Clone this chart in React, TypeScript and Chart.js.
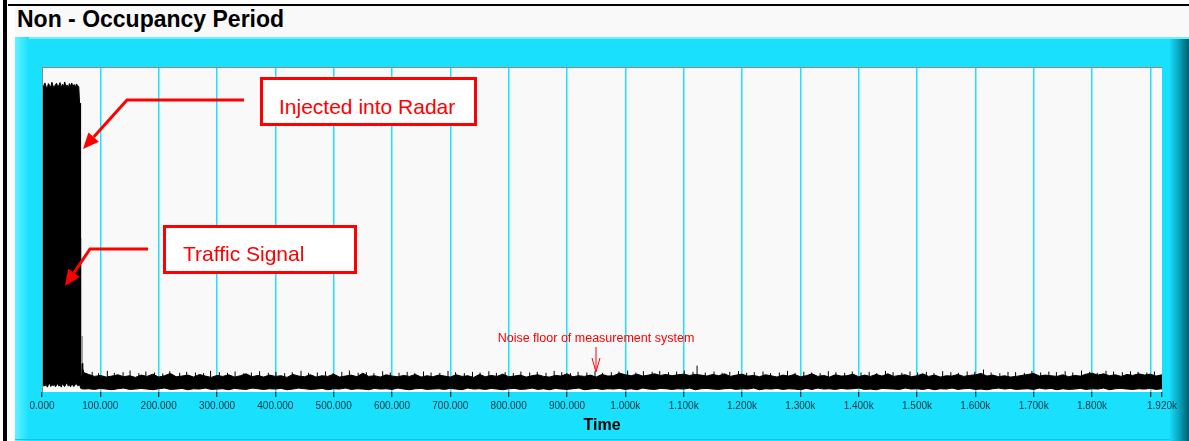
import React, { useEffect, useRef } from 'react';
import { Chart, registerables } from 'chart.js';

Chart.register(...registerables);

// ---- axis ticks (time, in thousands) ----
const tickValuesK = [0, 100, 200, 300, 400, 500, 600, 700, 800, 900, 1000, 1100, 1200, 1300, 1400, 1500, 1600, 1700, 1800, 1900, 1920];
const tickLabels = ['0.000', '100.000', '200.000', '300.000', '400.000', '500.000', '600.000', '700.000', '800.000', '900.000',
  '1.000k', '1.100k', '1.200k', '1.300k', '1.400k', '1.500k', '1.600k', '1.700k', '1.800k', '', '1.920k'];

// ---- burst (injected signal) envelope: time in k, amplitude (0-100) ----
const burstTimesK = [0, 1, 3, 5, 7, 9, 11, 13, 15, 17, 19, 21, 23, 25, 27, 29, 31, 33, 35, 37, 39, 41, 43, 45, 47, 49, 51, 53, 55, 57, 59, 61, 63,
  64.4, 65.2, 65.5, 66.2, 66.6, 67.0, 68.2, 68.8, 69.4, 70.2, 71.5];
const burstHigh = [94.2, 94.8, 93.6, 95.1, 94.0, 93.5, 94.9, 94.3, 93.8, 95.3, 94.1, 93.7, 94.6, 95.0, 93.9, 94.4, 95.2, 93.6, 94.7, 94.0,
  95.4, 93.8, 94.5, 93.5, 94.9, 94.2, 95.1, 93.9, 94.6, 93.7, 94.8, 94.3, 94.0,
  88.9, 88.9, 4.5, 4.0, 4.2, 5.0, 6.0, 8.5, 8.9, 7.5, 6.0];
const burstLow = [2.0, 1.6, 2.4, 1.8, 2.6, 1.5, 2.2, 2.8, 1.7, 2.3, 1.9, 2.5, 1.6, 2.1, 2.7, 1.8, 2.3, 1.5, 2.6, 2.0,
  1.7, 2.4, 2.9, 1.8, 2.2, 1.6, 2.5, 2.0, 1.7, 2.3, 2.6, 1.9, 2.1,
  2.0, 2.0, 1.5, 1.2, 1.2, 1.1, 1.0, 1.0, 0.9, 1.0, 0.9];

// thin single-sample spikes right after the burst (drawn grey, hairline)
const burstSpikeTimesK = [66.6, 68.8];
const burstSpikeTops = [47.4, 17.2];

// ---- noise floor envelope, sampled every 10k from 80k ----
const noiseStartK = 80;
const noiseStepK = 10;
const noiseHigh = [
  5.4, 4.8, 5.1, 4.6, 4.9, 5.3, 4.7, 5.0, 4.5, 5.2,
  4.8, 5.5, 4.6, 5.0, 5.7, 4.7, 4.9, 5.2, 4.6, 5.4,
  4.9, 4.5, 5.1, 4.8, 5.3, 4.6, 5.0, 5.6, 4.7, 5.1,
  4.6, 5.2, 4.8, 5.0, 4.5, 5.4, 4.9, 4.7, 5.3, 4.6,
  5.0, 4.8, 5.5, 4.6, 4.9, 5.2, 4.7, 5.8, 4.8, 5.0,
  4.6, 5.3, 4.9, 4.7, 5.1, 4.8, 5.4, 4.6, 5.0, 4.7,
  5.2, 4.9, 4.6, 5.3, 4.8, 5.0, 4.5, 5.4, 4.7, 5.1,
  4.8, 5.5, 4.7, 4.9, 5.2, 4.6, 5.0, 5.3, 4.8, 4.6,
  5.1, 4.9, 5.6, 4.7, 5.0, 4.8, 5.2, 4.6, 5.4, 4.9,
  5.0, 5.8, 5.3, 5.0, 5.5, 4.9, 5.2, 5.6, 5.1, 5.4,
  5.0, 5.3, 5.5, 5.1, 5.4, 5.2, 4.9, 5.4, 5.0, 5.6,
  4.8, 5.2, 5.5, 4.9, 5.1, 4.7, 5.3, 5.0, 4.6, 5.2,
  4.9, 5.4, 4.7, 5.0, 5.6, 4.8, 5.1, 4.6, 5.3, 4.9,
  5.0, 5.5, 4.7, 5.2, 4.8, 5.4, 4.9, 5.6, 4.8, 5.1,
  5.3, 4.7, 5.0, 5.6, 4.8, 5.2, 4.6, 5.0, 4.9, 5.4,
  4.8, 5.1, 5.3, 5.7, 4.9, 5.2, 4.7, 5.0, 4.6, 4.8,
  5.1, 5.4, 5.7, 4.9, 5.2, 5.0, 4.8, 5.3, 4.7, 5.1,
  4.9, 5.5, 5.8, 5.2, 5.6, 5.0, 5.3, 4.8, 5.4, 5.1,
  5.6, 5.2, 5.5, 4.9, 5.3,
];
const noiseLow = [
  1.0, 0.8, 1.1, 0.9, 0.7, 1.0, 1.2, 0.8, 0.9, 1.1,
  0.9, 0.7, 1.0, 1.2, 0.8, 0.9, 1.1, 0.7, 1.0, 0.9,
  1.2, 0.8, 0.9, 1.0, 0.7, 1.1, 0.9, 0.8, 1.2, 1.0,
  0.8, 1.0, 0.9, 1.1, 0.7, 0.9, 1.2, 1.0, 0.8, 0.9,
  1.1, 0.7, 1.0, 0.9, 1.2, 0.8, 1.0, 0.9, 0.7, 1.1,
  0.9, 1.0, 0.8, 1.2, 0.9, 0.7, 1.0, 1.1, 0.8, 0.9,
  1.0, 0.8, 1.1, 0.9, 0.7, 1.2, 0.9, 1.0, 0.8, 1.1,
  0.9, 0.7, 1.0, 1.1, 0.8, 0.9, 1.2, 0.8, 1.0, 0.7,
  1.1, 0.9, 0.8, 1.0, 1.2, 0.7, 0.9, 1.1, 0.8, 1.0,
  0.9, 1.1, 0.8, 1.0, 0.7, 1.2, 0.9, 0.8, 1.1, 1.0,
  0.8, 1.0, 0.9, 1.2, 0.7, 1.0, 1.1, 0.9, 0.8, 1.0,
  1.1, 0.8, 1.0, 0.9, 1.2, 0.7, 1.0, 0.9, 1.1, 0.8,
  1.0, 0.9, 0.7, 1.1, 0.8, 1.2, 0.9, 1.0, 0.8, 1.1,
  0.9, 1.0, 1.2, 0.8, 0.9, 0.7, 1.1, 1.0, 0.9, 0.8,
  1.2, 0.9, 1.0, 0.8, 1.1, 0.7, 1.0, 0.9, 1.2, 0.8,
  1.0, 1.1, 0.8, 0.9, 0.7, 1.0, 1.2, 0.9, 1.1, 0.8,
  0.9, 1.0, 0.8, 1.2, 0.9, 1.1, 0.7, 1.0, 0.8, 0.9,
  1.1, 0.8, 1.0, 0.9, 1.2, 0.7, 1.0, 1.1, 0.9, 0.8,
  1.0, 0.9, 1.1, 0.8, 1.0,
];

// ---- single-sample hairs poking above the noise band ----
const noiseSpikeTimesK = [
  86, 97, 112, 124, 139, 151, 166, 178, 193, 207, 219, 236, 248, 263, 277, 289, 304, 318, 331, 346,
  359, 373, 388, 401, 416, 429, 444, 457, 472, 486, 499, 514, 527, 542, 556, 569, 584, 597, 612, 626,
  639, 654, 667, 682, 696, 709, 724, 738, 751, 766, 779, 794, 808, 821, 836, 849, 864, 878, 891, 906,
  919, 934, 948, 961, 976, 989, 1004, 1018, 1031, 1046, 1059, 1074, 1088, 1101, 1116, 1123, 1137, 1152, 1166, 1179,
  1194, 1208, 1221, 1236, 1249, 1264, 1278, 1291, 1306, 1319, 1334, 1348, 1361, 1376, 1389, 1404, 1418, 1431, 1446, 1459,
  1474, 1488, 1501, 1516, 1529, 1544, 1558, 1571, 1586, 1599, 1614, 1627, 1642, 1656, 1669, 1684, 1697, 1712, 1726, 1739,
  1754, 1767, 1782, 1796, 1809, 1824, 1837, 1852, 1866, 1879, 1894, 1907,
];
const noiseSpikeTops = [
  6.2, 5.8, 6.5, 5.9, 6.1, 6.6, 5.8, 6.3, 6.0, 5.7, 6.4, 5.9, 6.2, 6.0, 5.8, 6.5, 6.1, 5.9, 6.3, 5.8,
  6.0, 6.4, 5.9, 6.2, 5.8, 6.1, 6.5, 5.9, 6.0, 6.3, 5.8, 6.2, 6.6, 5.9, 6.1, 5.8, 6.4, 6.0, 5.9, 6.2,
  5.8, 6.3, 6.0, 5.9, 6.5, 6.1, 5.8, 6.2, 6.0, 6.4, 5.9, 6.1, 5.8, 6.3, 6.0, 6.2, 5.9, 6.5, 6.1, 5.8,
  6.2, 6.0, 6.4, 5.9, 6.1, 6.3, 6.6, 6.0, 6.4, 6.2, 6.5, 6.1, 6.3, 6.6, 6.2, 8.1, 6.0, 6.3, 5.9, 6.2,
  6.4, 5.9, 6.1, 6.3, 5.8, 6.0, 6.5, 5.9, 6.2, 6.0, 5.8, 6.4, 6.1, 5.9, 6.3, 6.0, 6.2, 5.8, 6.5, 6.1,
  5.9, 6.3, 6.0, 6.2, 5.8, 6.4, 6.1, 5.9, 6.3, 6.2, 6.9, 6.0, 5.8, 6.2, 6.1, 5.9, 6.5, 6.0, 6.3, 6.1,
  6.4, 6.0, 6.6, 6.2, 5.9, 6.5, 6.3, 6.1, 6.4, 6.2, 6.0, 6.3,
];

const FONT = "Arial, 'Liberation Sans', sans-serif";
const RED = '#ff0000';

function arrowHead(fx: number, fy: number, tx: number, ty: number, len: number, half: number) {
  const dx = tx - fx, dy = ty - fy;
  const L = Math.hypot(dx, dy);
  const ux = dx / L, uy = dy / L;
  const bx = tx - ux * len, by = ty - uy * len;
  return {
    pts: `${tx},${ty} ${bx - uy * half},${by + ux * half} ${bx + uy * half},${by - ux * half}`,
    bx, by,
  };
}

function spikeSeries(timesK: number[], tops: number[], base: number) {
  const out: any[] = [];
  timesK.forEach((t, i) => {
    out.push({ x: t * 1000, y: base });
    out.push({ x: t * 1000, y: tops[i] });
    out.push({ x: t * 1000, y: null });
  });
  return out;
}

const plotBg = {
  id: 'plotBg',
  beforeDraw(chart: any) {
    const { ctx, chartArea } = chart;
    const { left, top, right, bottom } = chartArea;
    ctx.save();
    ctx.fillStyle = '#f9f9f9';
    ctx.fillRect(left, top, right - left, bottom - top);
    ctx.fillStyle = '#ffffff';
    ctx.fillRect(left, bottom - 3, right - left, 3);
    ctx.restore();
  },
  afterDatasetsDraw(chart: any) {
    const { ctx, chartArea } = chart;
    const { left, top, right, bottom } = chartArea;
    ctx.save();
    ctx.strokeStyle = '#8c8c8c';
    ctx.lineWidth = 1;
    ctx.beginPath();
    ctx.moveTo(left, top + 0.5);
    ctx.lineTo(right, top + 0.5);
    ctx.moveTo(left + 0.5, top);
    ctx.lineTo(left + 0.5, bottom);
    ctx.stroke();
    ctx.restore();
  },
};

export default function App() {
  const ref = useRef<HTMLCanvasElement>(null);

  useEffect(() => {
    const canvas = ref.current;
    if (!canvas) return;
    const highPts = [
      ...burstTimesK.map((t, i) => ({ x: t * 1000, y: burstHigh[i] })),
      ...noiseHigh.map((v, i) => ({ x: (noiseStartK + i * noiseStepK) * 1000, y: v })),
    ];
    const lowPts = [
      ...burstTimesK.map((t, i) => ({ x: t * 1000, y: burstLow[i] })),
      ...noiseLow.map((v, i) => ({ x: (noiseStartK + i * noiseStepK) * 1000, y: v })),
    ];
    const chart = new Chart(canvas, {
      type: 'line',
      data: {
        datasets: [
          { label: 'max', data: highPts, borderColor: '#000', backgroundColor: '#000', borderWidth: 1, pointRadius: 0, fill: '+1', tension: 0 },
          { label: 'min', data: lowPts, borderColor: '#000', backgroundColor: '#000', borderWidth: 1, pointRadius: 0, fill: false, tension: 0 },
          { label: 'hairs', data: spikeSeries(noiseSpikeTimesK, noiseSpikeTops, 4), borderColor: '#000', borderWidth: 1, pointRadius: 0, fill: false, spanGaps: false },
          { label: 'burstSpikes', data: spikeSeries(burstSpikeTimesK, burstSpikeTops, 4), borderColor: '#6e6e6e', borderWidth: 1, pointRadius: 0, fill: false, spanGaps: false },
        ],
      },
      options: {
        animation: false,
        responsive: false,
        events: [],
        layout: { padding: { left: 27, right: 27, top: 30, bottom: 0 } },
        scales: {
          x: {
            type: 'linear',
            min: 0,
            max: 1920000,
            afterBuildTicks: (s: any) => { s.ticks = tickValuesK.map((v) => ({ value: v * 1000 })); },
            afterFit: (s: any) => { s.height = 49; },
            ticks: {
              autoSkip: false,
              maxRotation: 0,
              minRotation: 0,
              padding: 3,
              color: '#0a3540',
              font: { family: FONT, size: 10 },
              callback: (_v: any, i: number) => tickLabels[i],
            },
            grid: {
              color: (c: any) => (c.tick && (c.tick.value === 0 || c.tick.value === 1920000) ? 'rgba(0,0,0,0)' : '#1de2fb'),
              lineWidth: 1.5,
              tickColor: '#000',
              tickLength: 5,
              tickWidth: 1,
              drawTicks: true,
            },
            border: { display: false },
            title: {
              display: true,
              text: 'Time',
              color: '#000',
              font: { family: FONT, size: 16, weight: 'bold', lineHeight: 1 },
              padding: { top: 0, bottom: 7 },
            },
          },
          y: { display: false, min: 0, max: 100 },
        },
        plugins: { legend: { display: false }, tooltip: { enabled: false } },
      } as any,
      plugins: [plotBg],
    });
    return () => chart.destroy();
  }, []);

  const a1 = arrowHead(127, 100, 83, 149, 16, 7);
  const a2 = arrowHead(90, 249, 65, 286, 16, 7);

  return (
    <div style={{ position: 'absolute', left: 0, top: 0, width: 1189, height: 441, background: '#fff', overflow: 'hidden', fontFamily: FONT }}>
      {/* left black bar and top rule */}
      <div style={{ position: 'absolute', left: 3, top: 0, width: 4, height: 441, background: '#000' }} />
      <div style={{ position: 'absolute', left: 8, top: 4, width: 1181, height: 2, background: '#000' }} />
      {/* title strip */}
      <div style={{ position: 'absolute', left: 15, top: 6, width: 1174, height: 31, background: '#f9f9f9' }} />
      <div style={{ position: 'absolute', left: 17, top: 8, fontSize: 23, lineHeight: '23px', fontWeight: 'bold', color: '#000', whiteSpace: 'nowrap' }}>
        Non - Occupancy Period
      </div>
      {/* cyan panel */}
      <div style={{ position: 'absolute', left: 15, top: 37, width: 1174, height: 404, background: '#19e0fd' }} />
      <div style={{ position: 'absolute', left: 15, top: 37, width: 1174, height: 2, background: '#6cefff' }} />
      <div style={{ position: 'absolute', left: 15, top: 37, width: 14, height: 404, background: 'linear-gradient(to right, #62f2ff, #19e0fd)' }} />
      <div style={{ position: 'absolute', left: 1170, top: 39, width: 19, height: 402, background: 'linear-gradient(to right, #19d8f4, #0aa9c2 45%, #005c6e)' }} />
      <div style={{ position: 'absolute', left: 15, top: 439, width: 1155, height: 1, background: '#10c6e2' }} />
      <canvas ref={ref} width={1174} height={404} style={{ position: 'absolute', left: 15, top: 37, width: 1174, height: 404 }} />
      {/* annotation arrows */}
      <svg width={1189} height={441} style={{ position: 'absolute', left: 0, top: 0, pointerEvents: 'none' }}>
        <polyline points={`244,100 127,100 ${a1.bx},${a1.by}`} fill="none" stroke={RED} strokeWidth={3} />
        <polygon points={a1.pts} fill={RED} />
        <polyline points={`148,249 90,249 ${a2.bx},${a2.by}`} fill="none" stroke={RED} strokeWidth={3} />
        <polygon points={a2.pts} fill={RED} />
        <line x1={596} y1={347} x2={596} y2={371} stroke={RED} strokeWidth={1} />
        <polyline points="592,358 596,372 600,358" fill="none" stroke={RED} strokeWidth={1} />
      </svg>
      {/* annotation boxes */}
      <div style={{ position: 'absolute', left: 260, top: 77, width: 217, height: 49, boxSizing: 'border-box', border: `3px solid ${RED}`, background: '#fff' }}>
        <span style={{ position: 'absolute', left: 16, top: 16, fontSize: 21, lineHeight: '21px', color: RED, whiteSpace: 'nowrap' }}>Injected into Radar</span>
      </div>
      <div style={{ position: 'absolute', left: 163, top: 225, width: 194, height: 49, boxSizing: 'border-box', border: `3px solid ${RED}`, background: '#fff' }}>
        <span style={{ position: 'absolute', left: 17, top: 15, fontSize: 21, lineHeight: '21px', color: RED, whiteSpace: 'nowrap' }}>Traffic Signal</span>
      </div>
      <div style={{ position: 'absolute', left: 446, width: 300, top: 332, textAlign: 'center', fontSize: 12.5, lineHeight: '12.5px', color: RED, whiteSpace: 'nowrap' }}>
        Noise floor of measurement system
      </div>
    </div>
  );
}
